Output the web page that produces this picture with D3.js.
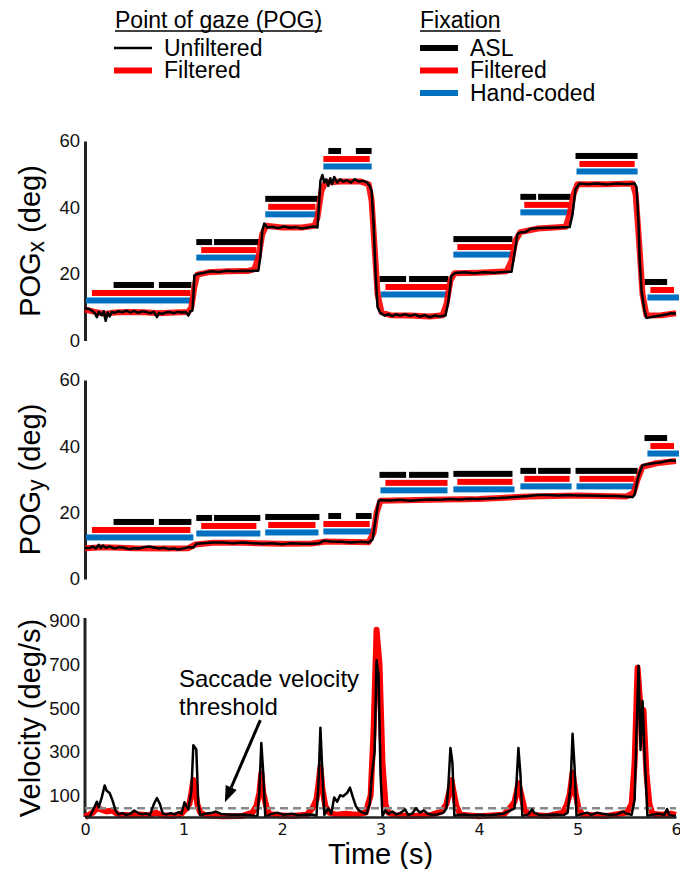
<!DOCTYPE html>
<html>
<head>
<meta charset="utf-8">
<script src="https://cdn.jsdelivr.net/npm/d3@7"></script>
<style>
  body { margin: 0; background: #fff; }
  svg { display: block; font-family: "Liberation Sans", Arial, Helvetica, sans-serif; }
</style>
</head>
<body>
<div id="chart"></div>
<script>
// ---- data -------------------------------------------------------------------
const timeTicks = [0, 1, 2, 3, 4, 5, 6];
const pogTicks = [0, 20, 40, 60];
const velTicks = [100, 300, 500, 700, 900];
const saccadeThreshold = 40;

// [time (s), deg]
const pogxUnfiltered = [
  [0.00, 9.7], [0.04, 9.5], [0.07, 9.0], [0.10, 8.2], [0.12, 7.0], [0.14, 8.6], [0.17, 7.6],
  [0.19, 8.8], [0.21, 5.9], [0.23, 8.4], [0.25, 7.2], [0.27, 8.6], [0.30, 8.3], [0.34, 8.8],
  [0.38, 8.5], [0.42, 9.0], [0.46, 8.4], [0.50, 8.9], [0.54, 8.3], [0.58, 8.8], [0.62, 8.6],
  [0.66, 8.2], [0.70, 8.6], [0.73, 7.0], [0.75, 8.3], [0.78, 8.0], [0.82, 8.4], [0.86, 8.6],
  [0.90, 8.2], [0.94, 8.6], [0.98, 8.4], [1.02, 8.6], [1.05, 7.5], [1.07, 8.8], [1.09, 9.0],
  [1.10, 13], [1.11, 19.5], [1.14, 20.0], [1.20, 20.3], [1.28, 20.8], [1.36, 20.6], [1.44, 21.0],
  [1.52, 20.8], [1.60, 21.0], [1.68, 20.9], [1.76, 21.0], [1.78, 25], [1.80, 33], [1.82, 35.2],
  [1.85, 34.0], [1.90, 34.2], [1.96, 33.8], [2.02, 34.3], [2.08, 33.9], [2.14, 34.1], [2.20, 33.7],
  [2.26, 34.0], [2.32, 34.3], [2.36, 34.0], [2.37, 38], [2.39, 48], [2.41, 49.8], [2.43, 47.5],
  [2.45, 48.5], [2.47, 46.5], [2.49, 48.8], [2.51, 47], [2.53, 49.2], [2.56, 47.5], [2.59, 48.5],
  [2.62, 47.8], [2.66, 48.2], [2.70, 47.5], [2.74, 48.5], [2.78, 47.8], [2.82, 48], [2.86, 47.6],
  [2.89, 46.5], [2.91, 45], [2.93, 35], [2.95, 20], [2.97, 10], [3.00, 8.3], [3.04, 7.5],
  [3.08, 7.9], [3.12, 7.3], [3.16, 7.9], [3.20, 7.5], [3.25, 7.9], [3.30, 7.4], [3.35, 7.8],
  [3.40, 7.2], [3.45, 7.6], [3.50, 7.0], [3.55, 7.5], [3.60, 7.2], [3.66, 7.5], [3.69, 12],
  [3.72, 19.5], [3.76, 20.3], [3.85, 20.5], [3.95, 20.2], [4.05, 20.5], [4.15, 20.4], [4.25, 20.6],
  [4.33, 20.7], [4.36, 26], [4.39, 32], [4.42, 32.5], [4.47, 32.6], [4.52, 33.5], [4.60, 33.8],
  [4.70, 33.9], [4.80, 34], [4.92, 34.1], [4.95, 38], [4.98, 45.5], [5.02, 47.2], [5.10, 47.0],
  [5.20, 47.2], [5.30, 46.9], [5.40, 47.2], [5.50, 47.0], [5.58, 47.2], [5.60, 46], [5.62, 35],
  [5.63, 25], [5.65, 15], [5.68, 9], [5.70, 6.8], [5.80, 7.3], [5.90, 7.8], [5.95, 8.2], [6.00, 8.1]
];
const pogxFiltered = [
  [0.00, 9.3], [0.10, 8.6], [0.20, 8.0], [0.30, 8.4], [0.45, 8.6], [0.60, 8.5], [0.75, 8.2],
  [0.90, 8.4], [1.05, 8.6], [1.08, 10], [1.11, 16], [1.14, 19.8], [1.25, 20.5], [1.45, 20.8],
  [1.65, 20.9], [1.72, 21.5], [1.76, 25], [1.80, 32], [1.84, 34.5], [2.00, 34.0], [2.20, 34.0],
  [2.33, 34.5], [2.36, 37], [2.40, 45], [2.44, 47.5], [2.60, 47.8], [2.80, 47.8], [2.88, 47],
  [2.91, 42], [2.94, 28], [2.97, 14], [3.01, 8.5], [3.10, 7.6], [3.30, 7.5], [3.50, 7.2],
  [3.63, 7.6], [3.67, 11], [3.71, 18], [3.75, 20.2], [4.00, 20.4], [4.28, 20.8], [4.33, 24],
  [4.37, 30], [4.42, 32.6], [4.60, 33.7], [4.88, 34.2], [4.92, 38], [4.96, 44], [5.00, 47],
  [5.30, 47], [5.56, 47.2], [5.59, 44], [5.62, 32], [5.66, 14], [5.70, 7.5], [5.85, 7.6], [6.00, 8.2]
];
const pogyUnfiltered = [
  [0.00, 9.4], [0.04, 9.3], [0.08, 9.8], [0.11, 9.2], [0.14, 10.3], [0.16, 9.3], [0.18, 10.1],
  [0.21, 9.4], [0.25, 9.8], [0.30, 9.2], [0.35, 9.6], [0.40, 9.4], [0.45, 9.0], [0.50, 9.3],
  [0.55, 9.2], [0.60, 9.6], [0.65, 9.8], [0.70, 9.5], [0.75, 9.2], [0.80, 9.4], [0.85, 9.0],
  [0.90, 9.2], [0.95, 8.9], [1.00, 9.2], [1.05, 9.6], [1.10, 9.5], [1.13, 10.6], [1.20, 10.8],
  [1.30, 11.0], [1.40, 11.0], [1.50, 10.8], [1.60, 11.0], [1.70, 10.8], [1.80, 10.6], [1.90, 10.8],
  [2.00, 10.5], [2.10, 10.8], [2.20, 10.6], [2.30, 10.6], [2.38, 10.8], [2.42, 11.5], [2.50, 11.3],
  [2.60, 11.2], [2.70, 11.0], [2.80, 11.2], [2.88, 11.0], [2.92, 12], [2.95, 18], [2.98, 23.5],
  [3.00, 23.8], [3.10, 23.7], [3.20, 23.9], [3.30, 23.6], [3.40, 23.8], [3.50, 24.0], [3.60, 23.9],
  [3.70, 24.1], [3.80, 24.0], [3.90, 24.2], [4.00, 24.1], [4.10, 24.3], [4.20, 24.4], [4.30, 24.6],
  [4.40, 24.8], [4.50, 25.0], [4.60, 25.3], [4.70, 25.3], [4.80, 25.2], [4.90, 25.3], [5.00, 25.2],
  [5.10, 25.2], [5.20, 25.1], [5.30, 25.0], [5.40, 25.0], [5.50, 24.8], [5.56, 24.7], [5.58, 25.5],
  [5.61, 30], [5.63, 32], [5.66, 34.3], [5.75, 34.8], [5.85, 35.2], [5.95, 35.8], [6.00, 35.6]
];
const pogyFiltered = [
  [0.00, 9.3], [0.20, 9.6], [0.50, 9.3], [0.80, 9.2], [1.05, 9.3], [1.12, 10.4], [1.30, 10.9],
  [1.60, 10.9], [2.00, 10.6], [2.30, 10.7], [2.45, 11.3], [2.88, 11.1], [2.93, 14], [2.96, 20],
  [3.00, 23.6], [3.50, 23.9], [4.00, 24.1], [4.50, 24.9], [5.00, 25.2], [5.50, 24.9], [5.57, 26],
  [5.61, 30], [5.66, 33.8], [5.80, 34.9], [6.00, 35.6]
];

// [time (s), deg/s]
const velUnfiltered = [
  [0.00, 0], [0.05, 2], [0.09, 40], [0.12, 70], [0.14, 45], [0.17, 90], [0.20, 145], [0.22, 120],
  [0.25, 110], [0.28, 75], [0.31, 30], [0.34, 12], [0.38, 18], [0.42, 10], [0.46, 15], [0.50, 30],
  [0.54, 18], [0.58, 12], [0.62, 16], [0.66, 10], [0.70, 60], [0.73, 87], [0.76, 60], [0.79, 15],
  [0.83, 12], [0.87, 18], [0.91, 12], [0.95, 22], [0.98, 15], [1.01, 68], [1.03, 50], [1.05, 35],
  [1.08, 120], [1.10, 330], [1.13, 310], [1.15, 60], [1.17, 8], [1.22, 15], [1.28, 18], [1.33, 25],
  [1.38, 14], [1.45, 12], [1.52, 10], [1.60, 12], [1.68, 8], [1.75, 2], [1.77, 120], [1.79, 340],
  [1.81, 200], [1.83, 2], [1.88, 12], [1.95, 20], [2.02, 10], [2.10, 15], [2.17, 8], [2.25, 12],
  [2.32, 10], [2.35, 5], [2.37, 150], [2.39, 410], [2.41, 200], [2.43, 10], [2.47, 40], [2.50, 15],
  [2.53, 90], [2.56, 70], [2.59, 100], [2.62, 95], [2.66, 110], [2.69, 135], [2.72, 90], [2.75, 50],
  [2.78, 30], [2.82, 20], [2.86, 15], [2.89, 60], [2.91, 180], [2.94, 300], [2.96, 720], [2.98, 650],
  [3.00, 200], [3.02, 5], [3.05, 30], [3.08, 15], [3.12, 25], [3.16, 12], [3.20, 18], [3.25, 35],
  [3.28, 10], [3.32, 15], [3.36, 40], [3.40, 20], [3.44, 30], [3.48, 15], [3.52, 10], [3.58, 12],
  [3.64, 20], [3.67, 40], [3.69, 150], [3.71, 317], [3.73, 250], [3.75, 5], [3.80, 10], [3.85, 12],
  [3.92, 8], [4.00, 10], [4.10, 8], [4.18, 12], [4.25, 15], [4.32, 30], [4.36, 40], [4.38, 150],
  [4.40, 317], [4.42, 200], [4.44, 5], [4.50, 12], [4.54, 35], [4.56, 20], [4.62, 8], [4.70, 10],
  [4.78, 12], [4.86, 8], [4.90, 20], [4.93, 150], [4.95, 382], [4.97, 230], [4.99, 5], [5.05, 15],
  [5.10, 20], [5.14, 10], [5.20, 20], [5.25, 15], [5.32, 10], [5.40, 12], [5.46, 25], [5.50, 15],
  [5.55, 10], [5.58, 80], [5.60, 400], [5.62, 694], [5.64, 308], [5.66, 533], [5.68, 300], [5.71, 5],
  [5.76, 10], [5.82, 15], [5.88, 10], [5.91, 36], [5.93, 10], [5.97, 5], [6.00, 5]
];
const velFiltered = [
  [0.00, 0], [0.08, 20], [0.12, 40], [0.16, 35], [0.22, 25], [0.28, 30], [0.34, 10], [0.45, 8],
  [0.55, 12], [0.65, 8], [0.72, 20], [0.78, 8], [0.90, 5], [0.98, 15], [1.03, 40], [1.06, 60],
  [1.08, 110], [1.10, 170], [1.12, 120], [1.14, 60], [1.17, 20], [1.22, 8], [1.40, 3], [1.60, 5],
  [1.70, 20], [1.74, 50], [1.77, 110], [1.79, 200], [1.81, 110], [1.84, 50], [1.87, 15], [1.95, 8],
  [2.10, 5], [2.25, 10], [2.31, 40], [2.35, 80], [2.37, 150], [2.39, 230], [2.41, 130], [2.44, 50],
  [2.48, 20], [2.55, 10], [2.65, 15], [2.75, 10], [2.85, 20], [2.90, 100], [2.93, 400], [2.96, 860],
  [2.99, 700], [3.02, 250], [3.05, 60], [3.08, 20], [3.15, 8], [3.30, 5], [3.50, 8], [3.62, 25],
  [3.67, 60], [3.70, 120], [3.72, 170], [3.74, 120], [3.77, 50], [3.81, 10], [4.00, 3], [4.25, 10],
  [4.32, 45], [4.36, 70], [4.38, 110], [4.40, 155], [4.43, 100], [4.46, 40], [4.50, 10], [4.70, 5],
  [4.85, 20], [4.89, 55], [4.92, 100], [4.95, 205], [4.98, 110], [5.01, 40], [5.05, 10], [5.30, 5],
  [5.50, 20], [5.55, 60], [5.58, 250], [5.61, 685], [5.64, 500], [5.67, 490], [5.70, 200],
  [5.73, 60], [5.76, 15], [5.85, 10], [5.95, 15], [6.00, 10]
];

// fixations: [fixation index, start (s), end (s)]
const fixASL = [
  [0, 0.29, 0.70], [0, 0.75, 1.08], [1, 1.13, 1.29], [1, 1.31, 1.78], [2, 1.83, 2.38],
  [3, 2.47, 2.60], [3, 2.75, 2.91], [4, 2.99, 3.26], [4, 3.29, 3.69], [5, 3.74, 4.34],
  [6, 4.42, 4.58], [6, 4.60, 4.93], [7, 4.98, 5.61], [8, 5.68, 5.91]
];
const fixFiltered = [
  [0, 0.07, 1.07], [1, 1.18, 1.74], [2, 1.86, 2.34], [3, 2.42, 2.89], [4, 3.05, 3.68],
  [5, 3.78, 4.34], [6, 4.46, 4.92], [7, 5.02, 5.58], [8, 5.74, 5.98]
];
const fixHandCoded = [
  [0, 0.01, 1.10], [1, 1.13, 1.78], [2, 1.83, 2.37], [3, 2.42, 2.91], [4, 3.00, 3.68],
  [5, 3.74, 4.36], [6, 4.42, 4.94], [7, 4.99, 5.61], [8, 5.71, 6.03]
];
// height (deg) at which each fixation's bar group sits, per panel
const barLevelX = [16.7, 29.6, 42.6, 57.0, 18.5, 30.5, 43.2, 55.5, 17.6];
const barLevelY = [17.2, 18.4, 18.7, 19.0, 31.4, 31.7, 32.6, 32.6, 42.5];

// ---- layout -----------------------------------------------------------------
const W = 680, H = 869;
const RED = "#ff0000", BLUE = "#0070c0", AXIS = "#222";
const fontTxt = '"Liberation Sans", Arial, Helvetica, sans-serif';

const svg = d3.select("#chart").append("svg")
  .attr("width", W).attr("height", H).attr("viewBox", `0 0 ${W} ${H}`);

const x = d3.scaleLinear().domain([0, 6]).range([85, 676]);

function yAxis(y, ticks) {
  const g = svg.append("g").attr("transform", `translate(${x(0)},0)`)
    .call(d3.axisLeft(y).tickValues(ticks).tickSize(0).tickSizeOuter(0).tickPadding(5));
  g.select(".domain").attr("stroke", AXIS).attr("stroke-width", 3);
  g.selectAll("text").attr("font-family", fontTxt).attr("font-size", 18.5).attr("fill", "#111");
  return g;
}

function yLabel(cy, main, sub, rest) {
  const t = svg.append("text")
    .attr("transform", `translate(40,${cy}) rotate(-90)`)
    .attr("text-anchor", "middle").attr("font-size", 29).attr("fill", "#000");
  t.append("tspan").text(main);
  if (sub) {
    t.append("tspan").attr("font-size", 23).attr("dy", 4).text(sub);
    t.append("tspan").attr("dy", -4).text(rest);
  } else {
    t.select("tspan").text(main + rest);
  }
}

const line = y => d3.line().x(d => x(d[0])).y(d => y(d[1]));

function pogPanel(top, bottom, filtered, unfiltered, levels, sub, cy) {
  const y = d3.scaleLinear().domain([0, 60]).range([bottom, top]);
  yAxis(y, pogTicks);
  yLabel(cy, "POG", sub, " (deg)");

  const rows = [
    { data: fixASL, color: "#000", off: 0 },
    { data: fixFiltered, color: RED, off: 8 },
    { data: fixHandCoded, color: BLUE, off: 15.5 }
  ];
  rows.forEach(r => {
    svg.append("g").selectAll("rect").data(r.data).join("rect")
      .attr("x", d => x(d[1]))
      .attr("width", d => x(d[2]) - x(d[1]))
      .attr("y", d => y(levels[d[0]]) + r.off - 3)
      .attr("height", 6)
      .attr("fill", r.color);
  });

  svg.append("path").datum(filtered)
    .attr("d", line(y)).attr("fill", "none")
    .attr("stroke", RED).attr("stroke-width", 6).attr("stroke-linejoin", "round")
    .attr("stroke-opacity", 0.9);
  svg.append("path").datum(unfiltered)
    .attr("d", line(y)).attr("fill", "none")
    .attr("stroke", "#000").attr("stroke-width", 2.5).attr("stroke-linejoin", "round");
}

pogPanel(141, 340.5, pogxFiltered, pogxUnfiltered, barLevelX, "x", 241);
pogPanel(380, 579, pogyFiltered, pogyUnfiltered, barLevelY, "y", 479.5);

// ---- velocity panel ---------------------------------------------------------
const yv = d3.scaleLinear().domain([0, 900]).range([817, 621]);
const va = yAxis(yv, velTicks);
va.select(".domain").attr("d", `M0,${yv(0)}V${yv(900) - 3}`);
yLabel(718, "Velocity (deg/s)", null, "");

svg.append("path").datum(velFiltered)
  .attr("d", line(yv)).attr("fill", "none")
  .attr("stroke", RED).attr("stroke-width", 6).attr("stroke-linejoin", "round");
svg.append("line")
  .attr("x1", x(0)).attr("x2", x(6))
  .attr("y1", yv(saccadeThreshold)).attr("y2", yv(saccadeThreshold))
  .attr("stroke", "#888").attr("stroke-width", 2.5).attr("stroke-dasharray", "8,5");
svg.append("path").datum(velUnfiltered)
  .attr("d", line(yv)).attr("fill", "none")
  .attr("stroke", "#000").attr("stroke-width", 2.5).attr("stroke-linejoin", "round");

const xa = svg.append("g").attr("transform", `translate(0,${yv(0)})`)
  .call(d3.axisBottom(x).tickValues(timeTicks).tickFormat(d3.format("d"))
    .tickSize(0).tickSizeOuter(0).tickPadding(7));
xa.select(".domain").attr("stroke", AXIS).attr("stroke-width", 2.5);
xa.selectAll("text").attr("font-family", '"DejaVu Sans", Verdana, sans-serif')
  .attr("font-size", 16).attr("fill", "#111");

svg.append("text").attr("x", (x(0) + x(6)) / 2).attr("y", 864)
  .attr("text-anchor", "middle").attr("font-size", 29).text("Time (s)");

// annotation
svg.append("text").attr("x", 179).attr("y", 687).attr("font-size", 24).text("Saccade velocity");
svg.append("text").attr("x", 179).attr("y", 715).attr("font-size", 24).text("threshold");
const a0 = [x(1.78), yv(445)], a1 = [x(1.42), yv(68)];
const ang = Math.atan2(a1[1] - a0[1], a1[0] - a0[0]);
const hl = 16, hw = 6;
const base = [a1[0] - hl * Math.cos(ang), a1[1] - hl * Math.sin(ang)];
svg.append("line").attr("x1", a0[0]).attr("y1", a0[1]).attr("x2", base[0]).attr("y2", base[1])
  .attr("stroke", "#000").attr("stroke-width", 3);
svg.append("path")
  .attr("d", `M${a1[0]},${a1[1]}L${base[0] + hw * Math.sin(ang)},${base[1] - hw * Math.cos(ang)}` +
             `L${base[0] - hw * Math.sin(ang)},${base[1] + hw * Math.cos(ang)}Z`)
  .attr("fill", "#000");

// ---- legend -----------------------------------------------------------------
const lg = svg.append("g").attr("font-size", 23).attr("fill", "#000");
function heading(x0, y0, label) {
  const t = lg.append("text").attr("x", x0).attr("y", y0).text(label);
  const w = t.node().getComputedTextLength();
  lg.append("line").attr("x1", x0).attr("x2", x0 + w).attr("y1", y0 + 3).attr("y2", y0 + 3)
    .attr("stroke", "#000").attr("stroke-width", 1.6);
}
function entry(x0, yc, color, sw, label) {
  lg.append("line").attr("x1", x0).attr("x2", x0 + 38).attr("y1", yc).attr("y2", yc)
    .attr("stroke", color).attr("stroke-width", sw);
  lg.append("text").attr("x", x0 + 50).attr("y", yc + 7.5).text(label);
}
heading(115, 28, "Point of gaze (POG)");
entry(114, 48, "#000", 2.5, "Unfiltered");
entry(114, 70.5, RED, 6, "Filtered");
heading(420, 28, "Fixation");
entry(420, 48, "#000", 6, "ASL");
entry(420, 70.5, RED, 6, "Filtered");
entry(420, 93, BLUE, 6, "Hand-coded");
</script>
</body>
</html>
